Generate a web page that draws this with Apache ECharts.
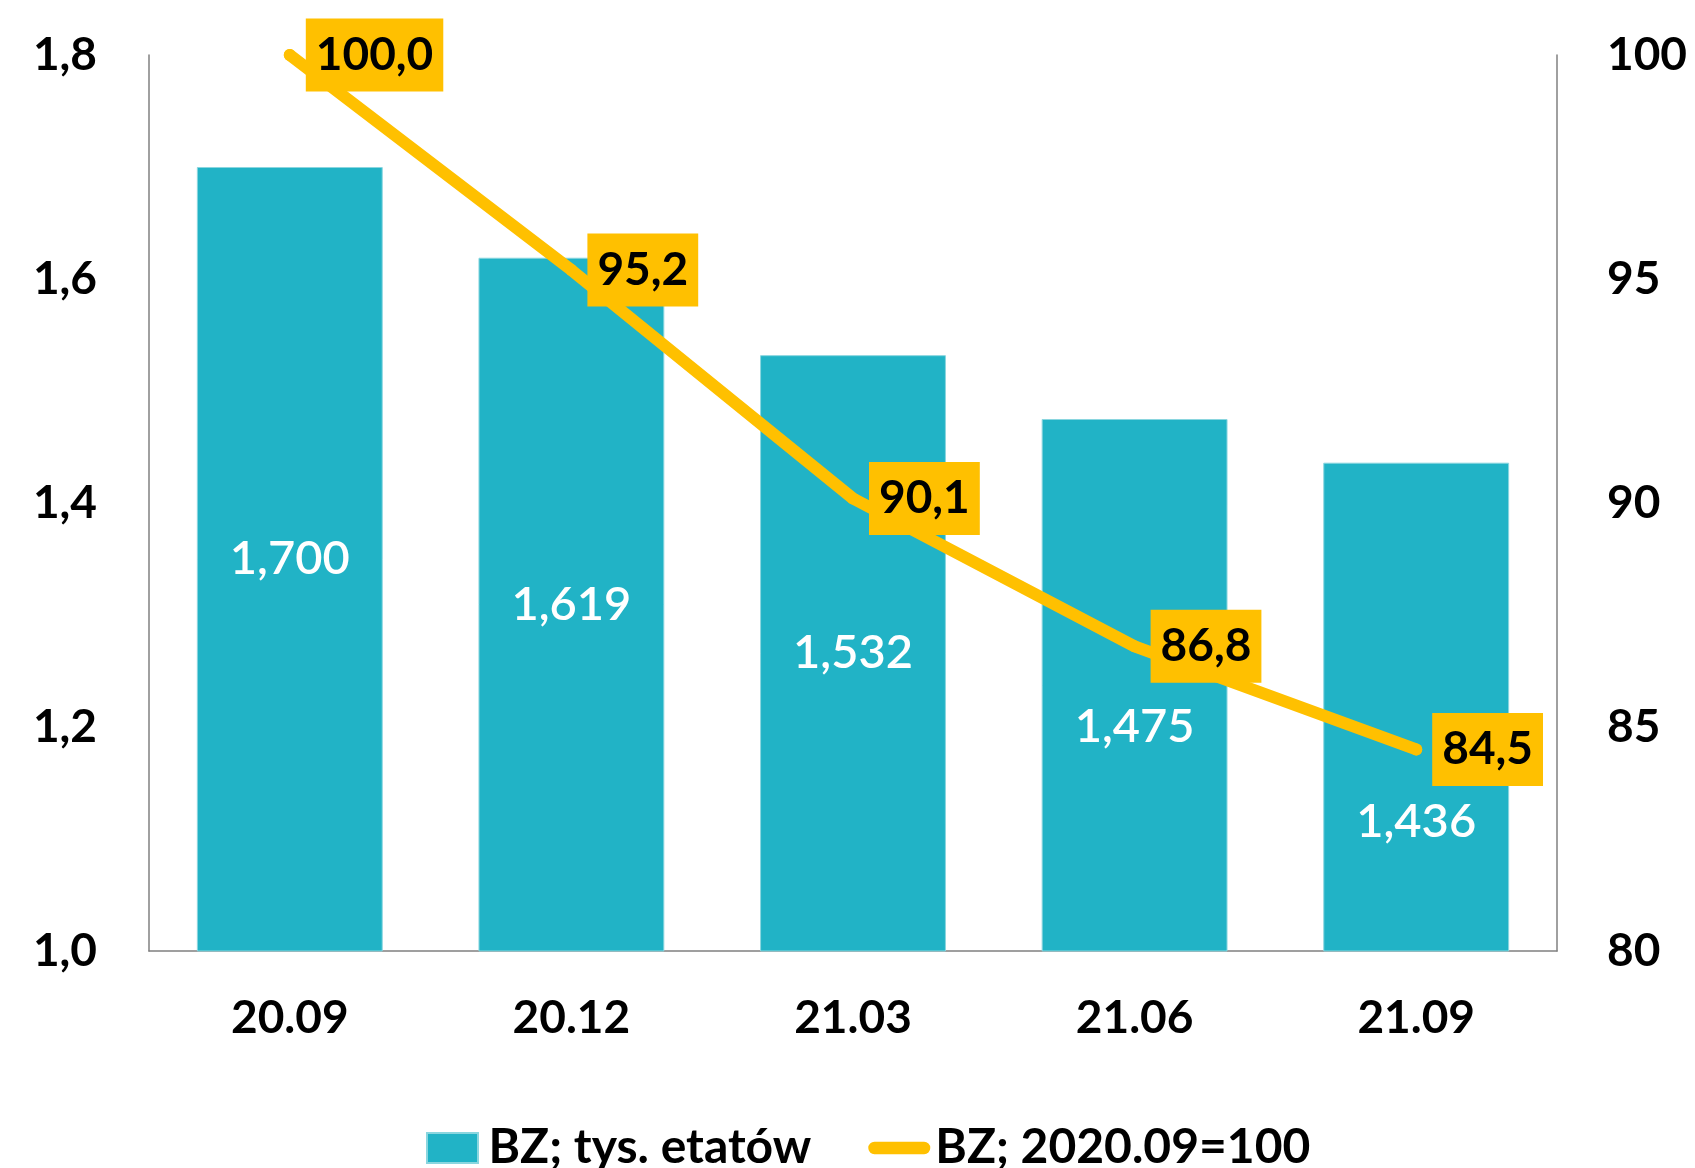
<!DOCTYPE html>
<html>
<head>
<meta charset="utf-8">
<script src="https://cdn.jsdelivr.net/npm/echarts@6/dist/echarts.min.js"></script>
<style>
  html, body { margin: 0; padding: 0; background: #ffffff; }
  #chart { width: 1695px; height: 1168px; }
</style>
</head>
<body>
<div id="chart"></div>
<script>
// Quarters on the category axis
const categories = ['20.09', '20.12', '21.03', '21.06', '21.09'];
// Employment, thousands of FTEs (left axis)
const etaty = [1.700, 1.619, 1.532, 1.475, 1.436];
// Index, 2020.09 = 100 (right axis)
const indeks = [100.0, 95.2, 90.1, 86.8, 84.5];
// Series names shown in the legend
const seriesNames = ['BZ; tys. etatów', 'BZ; 2020.09=100'];

const FONT = 'Lato, "Noto Sans", sans-serif';
const TEAL = '#21B3C6';
const GOLD = '#FFC000';
const AXIS_GRAY = '#808080';

const comma = (v, d) => Number(v).toFixed(d).replace('.', ',');

// The last two bar labels are pushed down so the index line does not cover them
const barLabelShift = [0, 0, 0, 42, 115];
const barData = etaty.map((v, i) => ({
  value: v,
  label: { offset: [0, barLabelShift[i]] }
}));

const chart = echarts.init(document.getElementById('chart'), null, { renderer: 'canvas' });

chart.setOption({
  backgroundColor: '#ffffff',
  animation: false,
  textStyle: { fontFamily: FONT },
  grid: { left: 149, right: 138, top: 55, bottom: 217, containLabel: false },
  legend: {
    left: 421,
    top: 1119,
    itemWidth: 62,
    itemHeight: 30,
    itemGap: 57,
    symbolKeepAspect: true,
    textStyle: { fontFamily: FONT, fontSize: 48, fontWeight: 'bold', color: '#000' },
    data: [
      { name: seriesNames[0], icon: 'path://M0,0H51V30H0Z', itemStyle: { color: TEAL } },
      { name: seriesNames[1], icon: 'path://M6.5,0H58.5A6.5,6.5 0 0 1 58.5,13H6.5A6.5,6.5 0 0 1 6.5,0Z', itemStyle: { color: GOLD } }
    ]
  },
  xAxis: {
    type: 'category',
    data: categories,
    axisLine: { show: true, lineStyle: { color: AXIS_GRAY, width: 1.5 } },
    axisTick: { show: false },
    axisLabel: { margin: 44, fontFamily: FONT, fontSize: 46, fontWeight: 'bold', color: '#000' }
  },
  yAxis: [
    {
      type: 'value',
      min: 1.0, max: 1.8, interval: 0.2,
      axisLine: { show: true, lineStyle: { color: AXIS_GRAY, width: 1.5 } },
      axisTick: { show: false },
      splitLine: { show: false },
      axisLabel: {
        margin: 52, fontFamily: FONT, fontSize: 46, fontWeight: 'bold', color: '#000',
        formatter: v => comma(v, 1)
      }
    },
    {
      type: 'value',
      min: 80, max: 100, interval: 5,
      position: 'right',
      axisLine: { show: true, lineStyle: { color: AXIS_GRAY, width: 1.5 } },
      axisTick: { show: false },
      splitLine: { show: false },
      axisLabel: {
        margin: 50, fontFamily: FONT, fontSize: 46, fontWeight: 'bold', color: '#000',
        formatter: v => String(v)
      }
    }
  ],
  series: [
    {
      name: seriesNames[0],
      type: 'bar',
      yAxisIndex: 0,
      data: barData,
      barWidth: '66%',
      itemStyle: { color: TEAL, borderColor: '#8AD6DF', borderWidth: 1 },
      label: {
        show: true,
        position: 'inside',
        fontFamily: FONT,
        fontSize: 47,
        fontWeight: 600,
        color: '#ffffff',
        formatter: p => comma(p.value, 3)
      },
      z: 2
    },
    {
      name: seriesNames[1],
      type: 'line',
      yAxisIndex: 1,
      data: indeks,
      symbol: 'circle',
      symbolSize: 12,
      itemStyle: { color: GOLD },
      lineStyle: { color: GOLD, width: 12, cap: 'round', join: 'round' },
      label: {
        show: true,
        position: 'right',
        distance: 10,
        fontFamily: FONT,
        fontSize: 46,
        fontWeight: 'bold',
        color: '#000',
        backgroundColor: GOLD,
        lineHeight: 52,
        padding: [11, 10, 10, 10],
        formatter: p => comma(p.value, 1)
      },
      z: 5
    }
  ]
});
</script>
</body>
</html>
